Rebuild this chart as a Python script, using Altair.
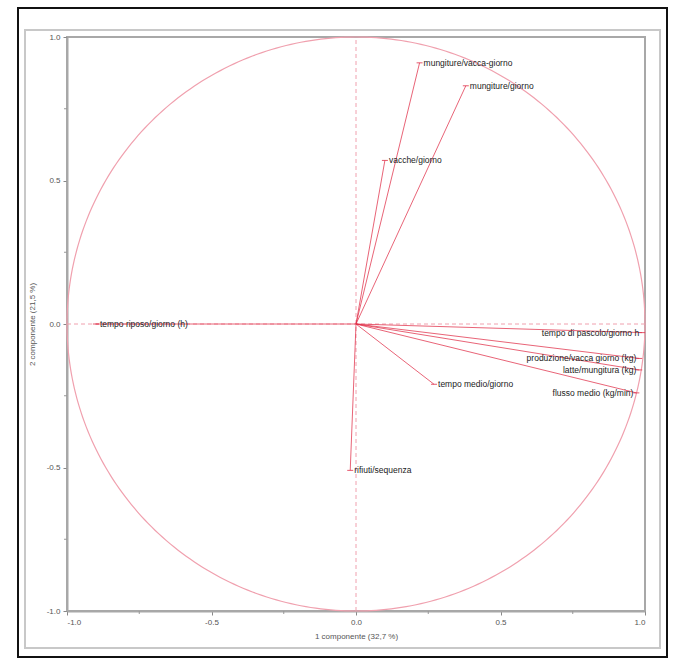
import altair as alt
import numpy as np
import pandas as pd

# Loadings of the variables on the first two principal components
variables = [
    "mungiture/vacca-giorno",
    "mungiture/giorno",
    "vacche/giorno",
    "tempo riposo/giorno (h)",
    "tempo di pascolo/giorno h",
    "produzione/vacca giorno (kg)",
    "latte/mungitura (kg)",
    "flusso medio (kg/min)",
    "tempo medio/giorno",
    "rifiuti/sequenza",
]
pc1 = [0.22, 0.38, 0.10, -0.90, 0.99, 0.98, 0.98, 0.97, 0.27, -0.02]
pc2 = [0.91, 0.83, 0.57, 0.00, -0.03, -0.12, -0.16, -0.24, -0.21, -0.51]
label_side = ["left", "left", "left", "left", "right", "right", "right", "right", "left", "left"]

x_ticks = [-1.0, -0.5, 0.0, 0.5, 1.0]
y_ticks = [-1.0, -0.5, 0.0, 0.5, 1.0]
minor_ticks = [-0.75, -0.25, 0.25, 0.75]
x_title = "1 componente (32,7 %)"
y_title = "2 componente (21,5 %)"

W, H = 578, 574
RED = "#e0304a"
PINK = "#f0a0ae"
FONT = "Liberation Sans"

vec = pd.DataFrame({"var": variables, "x": pc1, "y": pc2, "side": label_side})
vec["x0"] = 0.0
vec["y0"] = 0.0

xs = alt.Scale(domain=[-1, 1], nice=False, zero=False)
ys = alt.Scale(domain=[-1, 1], nice=False, zero=False)

# plain hyphen for negative tick labels
lab = "datum.value < 0 ? '-' + format(-datum.value, '.1f') : format(datum.value, '.1f')"

common = dict(grid=False, labelFontSize=8, titleFontSize=8, titleFontWeight="normal",
              labelColor="#555", titleColor="#555", domainColor="#a8a8a8",
              tickColor="#888", tickSize=4, labelPadding=3, domainWidth=2,
              labelExpr=lab)
xax = alt.Axis(values=x_ticks, title=x_title, titlePadding=6, **common)
yax = alt.Axis(values=y_ticks, title=y_title, titlePadding=10, **common)

# correlation circle of radius 1
t = np.linspace(0, 2 * np.pi, 361)
circle = pd.DataFrame({"cx": np.cos(t), "cy": np.sin(t), "o": np.arange(len(t))})
circle_layer = alt.Chart(circle).mark_line(color=PINK, strokeWidth=1.2).encode(
    x=alt.X("cx:Q", scale=xs, axis=xax),
    y=alt.Y("cy:Q", scale=ys, axis=yax),
    order="o:Q",
)

# minor ticks along both axes
minor = pd.DataFrame({"m": minor_ticks})
minor_x = alt.Chart(minor).mark_rule(color="#999", strokeWidth=1).encode(
    x=alt.X("m:Q", scale=xs), y=alt.value(H), y2=alt.value(H + 3)
)
minor_y = alt.Chart(minor).mark_rule(color="#999", strokeWidth=1).encode(
    y=alt.Y("m:Q", scale=ys), x=alt.value(-3), x2=alt.value(0)
)

# dashed reference axes through the origin
vline = alt.Chart(pd.DataFrame({"x": [0.0], "y": [-1.0], "y2": [1.0]})).mark_rule(
    color=PINK, strokeDash=[4, 3], strokeWidth=1
).encode(x=alt.X("x:Q", scale=xs), y=alt.Y("y:Q", scale=ys), y2="y2:Q")
hline = alt.Chart(pd.DataFrame({"y": [0.0], "x": [-1.0], "x2": [1.0]})).mark_rule(
    color=PINK, strokeDash=[4, 3], strokeWidth=1
).encode(y=alt.Y("y:Q", scale=ys), x=alt.X("x:Q", scale=xs), x2="x2:Q")

# loading vectors
vectors = alt.Chart(vec).mark_rule(color=RED, strokeWidth=1, opacity=0.75).encode(
    x=alt.X("x0:Q", scale=xs), y=alt.Y("y0:Q", scale=ys), x2="x:Q", y2="y:Q"
)

tips = alt.Chart(vec).mark_tick(color=RED, thickness=1, size=6, orient="horizontal", opacity=0.8).encode(
    x=alt.X("x:Q", scale=xs), y=alt.Y("y:Q", scale=ys)
)

labels_l = alt.Chart(vec[vec["side"] == "left"]).mark_text(
    align="left", baseline="middle", dx=4, fontSize=8.5, color="#222", font=FONT
).encode(x=alt.X("x:Q", scale=xs), y=alt.Y("y:Q", scale=ys), text="var:N")

labels_r = alt.Chart(vec[vec["side"] == "right"]).mark_text(
    align="right", baseline="middle", dx=-3, fontSize=8.5, color="#222", font=FONT
).encode(x=alt.X("x:Q", scale=xs), y=alt.Y("y:Q", scale=ys), text="var:N")

# outer frames of the figure
one = pd.DataFrame({"k": [0]})
outer = alt.Chart(one).mark_rect(fillOpacity=0, stroke="#111", strokeWidth=2).encode(
    x=alt.value(18 - 67), x2=alt.value(667 - 67), y=alt.value(8 - 37), y2=alt.value(657 - 37)
)
panel = alt.Chart(one).mark_rect(fillOpacity=0, stroke="#c8c8c8", strokeWidth=2).encode(
    x=alt.value(25 - 67), x2=alt.value(660 - 67), y=alt.value(30 - 37), y2=alt.value(648 - 37)
)

chart = alt.layer(
    outer, panel, circle_layer, minor_x, minor_y, vline, hline, vectors, tips, labels_l, labels_r
).properties(
    width=W, height=H,
    autosize=alt.AutoSizeParams(type="none"),
    padding={"left": 67, "top": 37, "right": 679 - 67 - W, "bottom": 660 - 37 - H},
    background="white",
).configure_view(
    stroke="#a8a8a8", strokeWidth=2
).configure_axis(
    labelFont=FONT, titleFont=FONT
)

chart.save("out.html", embed_options={"renderer": "svg", "actions": False})
